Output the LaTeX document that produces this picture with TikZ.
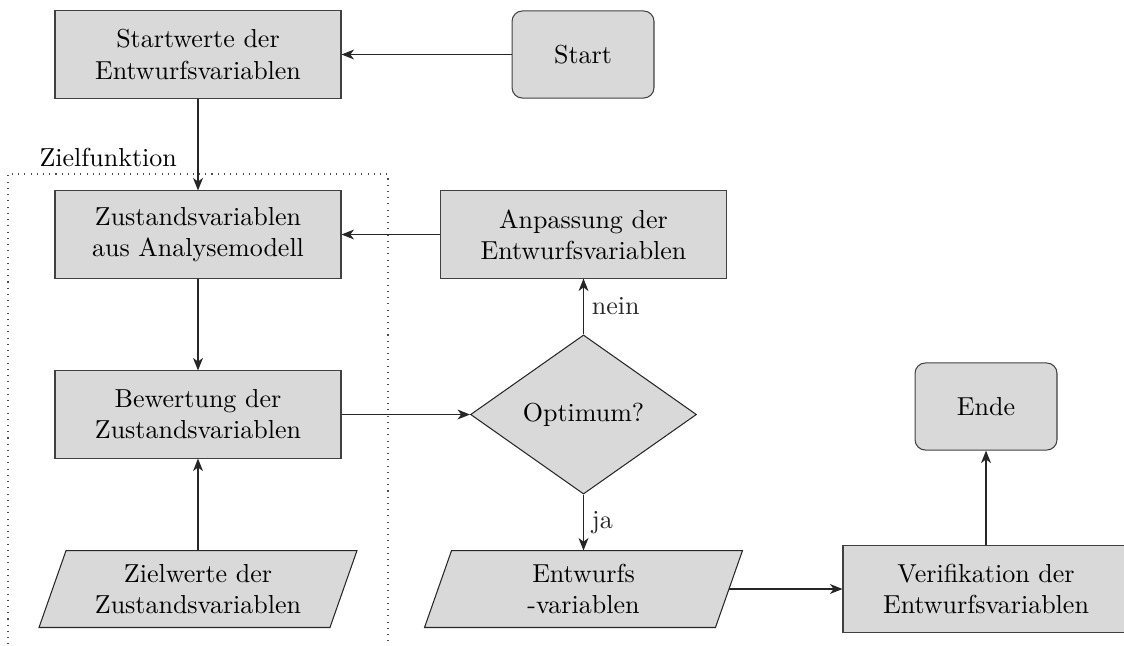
\documentclass[tikz,border=0pt]{standalone}
\usetikzlibrary{shapes.geometric,arrows.meta,backgrounds}
\begin{document}
\begin{tikzpicture}[x=0.3846pt,y=-0.3846pt,
  every node/.style={font=\normalsize, align=center},
  procbox/.style={draw=black!75, fill=black!15, rectangle, minimum width=110pt, minimum height=33.5pt, inner sep=0pt},
  termbox/.style={draw=black!75, fill=black!15, rectangle, rounded corners=4pt, minimum width=54.6pt, minimum height=33.5pt, inner sep=0pt},
  decbox/.style={draw=black!85, fill=black!15, diamond, minimum width=86.9pt, minimum height=61.2pt, inner sep=0pt},
  iobody/.style={rectangle, minimum width=111.5pt, minimum height=29.2pt, inner sep=0pt},
  iobox/.style={draw=black!85, fill=black!15},
  conn/.style={-{Stealth[length=4.8pt,width=3.8pt,inset=1.4pt]}, black!85, line width=0.45pt},
  lbl/.style={right, inner sep=3pt}]
\useasboundingbox (0,0) rectangle (1124,645);
\clip (0,0) rectangle (1124,645);

\node[procbox] (sw) at (198,54.5) {Startwerte der\\Entwurfsvariablen};
\node[termbox] (start) at (583,54.5) {Start};
\node[procbox] (zv) at (198,234.5) {Zustandsvariablen\\aus Analysemodell};
\node[procbox] (anp) at (583.5,234.5) {Anpassung der\\Entwurfsvariablen};
\node[procbox] (bew) at (198,414.5) {Bewertung der\\Zustandsvariablen};
\node[decbox] (opt) at (583.5,414.5) {Optimum?};
\node[iobody] (zw) at (198,589) {Zielwerte der\\Zustandsvariablen};
\node[iobody] (ew) at (583.5,589) {Entwurfs\\-variablen};
\node[procbox, minimum height=33.8pt] (ver) at (986,589) {Verifikation der\\Entwurfsvariablen};
\node[termbox] (ende) at (986,406.5) {Ende};
\node[anchor=base west, inner sep=0pt] (zf) at (39,166) {Zielfunktion};

\begin{scope}[on background layer]
  \draw[iobox] ([xshift=5.2pt]zw.north west) -- ([xshift=5.2pt]zw.north east)
     -- ([xshift=-5.2pt]zw.south east) -- ([xshift=-5.2pt]zw.south west) -- cycle;
  \draw[iobox] ([xshift=5.2pt]ew.north west) -- ([xshift=5.2pt]ew.north east)
     -- ([xshift=-5.2pt]ew.south east) -- ([xshift=-5.2pt]ew.south west) -- cycle;
  \draw[dotted, black!70] (388,660) -- (388,174) -- (8,174) -- (8,660);
\end{scope}

\draw[conn] (start) -- (sw);
\draw[conn] (sw) -- (zv);
\draw[conn] (anp) -- (zv);
\draw[conn] (zv) -- (bew);
\draw[conn] (zw) -- (bew);
\draw[conn] (bew) -- (opt);
\draw[conn] (opt.north) -- node[lbl] {nein} (anp);
\draw[conn] (opt.south) -- node[lbl] {ja} (ew);
\draw[conn] (ew.east) -- (ver);
\draw[conn] (ver) -- (ende);
\end{tikzpicture}
\end{document}
